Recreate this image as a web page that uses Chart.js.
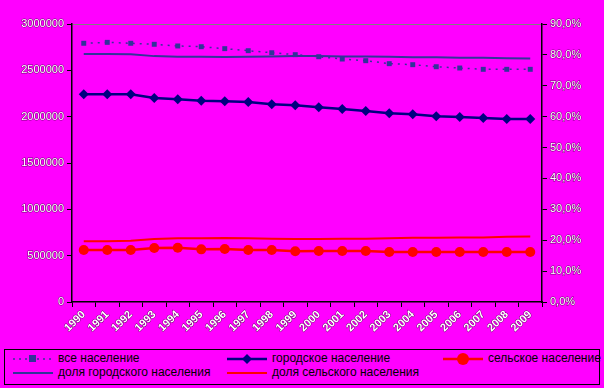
<!DOCTYPE html>
<html>
<head>
<meta charset="utf-8">
<script src="https://cdn.jsdelivr.net/npm/chart.js@4"></script>
<style>
  body { margin: 0; background: #ff00ff; width: 604px; height: 388px; overflow: hidden; position: relative; font-family: Arial, "Liberation Sans", sans-serif; }
  #wrap { position: absolute; left: 0; top: 0; width: 604px; height: 345px; }
  #legenda { position: absolute; left: 4px; top: 349px; width: 596px; height: 36px; border: 1px solid #000; box-sizing: border-box; font-size: 12px; color: #000; }
  .item { position: absolute; height: 13px; line-height: 13px; white-space: nowrap; }
  .mark { position: absolute; left: 0; top: 0; width: 40px; height: 13px; }
  .item span { position: absolute; left: 45px; top: 0; }
</style>
</head>
<body>
<div id="wrap"><canvas id="grafico" width="604" height="345"></canvas></div>
<div id="legenda">
  <div class="item" style="left:8px;top:2px;width:200px">
    <svg class="mark"><line x1="0" y1="7" x2="40" y2="7" stroke="#333399" stroke-width="1.5" stroke-dasharray="2,4"/><rect x="16" y="3" width="7" height="7" fill="#333399"/></svg>
    <span>все население</span>
  </div>
  <div class="item" style="left:222px;top:2px;width:200px">
    <svg class="mark"><line x1="0" y1="7" x2="40" y2="7" stroke="#000080" stroke-width="2.5"/><polygon points="20,2 25,7 20,12 15,7" fill="#000080"/></svg>
    <span>городское население</span>
  </div>
  <div class="item" style="left:438px;top:2px;width:160px">
    <svg class="mark"><line x1="0" y1="7" x2="40" y2="7" stroke="#ff0000" stroke-width="2.5"/><circle cx="20" cy="7" r="6" fill="#ff0000"/></svg>
    <span>сельское население</span>
  </div>
  <div class="item" style="left:8px;top:16px;width:220px">
    <svg class="mark"><line x1="0" y1="7" x2="40" y2="7" stroke="#333399" stroke-width="2"/></svg>
    <span>доля городского населения</span>
  </div>
  <div class="item" style="left:222px;top:16px;width:220px">
    <svg class="mark"><line x1="0" y1="7" x2="40" y2="7" stroke="#ff0000" stroke-width="2"/></svg>
    <span>доля сельского населения</span>
  </div>
</div>
<script>
const anos = ["1990","1991","1992","1993","1994","1995","1996","1997","1998","1999","2000","2001","2002","2003","2004","2005","2006","2007","2008","2009"];
const todaPopulacao = [2792000,2802000,2792000,2781000,2763000,2755000,2734000,2712000,2690000,2669000,2647000,2622000,2604000,2572000,2561000,2539000,2525000,2511000,2511000,2511000];
const urbana = [2241000,2241000,2241000,2201000,2187000,2172000,2166000,2158000,2133000,2122000,2101000,2083000,2061000,2036000,2025000,2004000,1996000,1986000,1975000,1975000];
const rural = [561000,561000,561000,583000,586000,568000,572000,561000,561000,547000,550000,550000,550000,540000,540000,540000,540000,540000,540000,540000];
const partUrbana = [80.3,80.3,80.2,79.6,79.4,79.4,79.3,79.4,79.5,79.6,79.6,79.5,79.5,79.4,79.2,79.2,79.1,79.1,78.9,78.8];
const partRural = [19.7,19.7,19.8,20.4,20.6,20.6,20.7,20.6,20.5,20.4,20.4,20.5,20.5,20.6,20.8,20.8,20.9,20.9,21.1,21.2];
const ticksEsq = [0,500000,1000000,1500000,2000000,2500000,3000000];
const ticksDir = [0,10,20,30,40,50,60,70,80,90];

const fonteTick = { family: 'Arial, "Liberation Sans", sans-serif', size: 11 };
const contorno = { color: '#fff', textStrokeColor: 'rgba(0,0,0,0.55)', textStrokeWidth: 1 };

const ctx = document.getElementById('grafico').getContext('2d');
const grafico = new Chart(ctx, {
  type: 'line',
  data: {
    labels: anos,
    datasets: [
      { label: 'все население', data: todaPopulacao, yAxisID: 'y', borderColor: '#333399', backgroundColor: '#333399',
        borderWidth: 1.5, borderDash: [2, 5], pointStyle: 'rect', pointRadius: 3.5, pointBorderWidth: 0 },
      { label: 'городское население', data: urbana, yAxisID: 'y', borderColor: '#000080', backgroundColor: '#000080',
        borderWidth: 2.5, pointStyle: 'rectRot', pointRadius: 5, pointBorderWidth: 0 },
      { label: 'сельское население', data: rural, yAxisID: 'y', borderColor: '#ff0000', backgroundColor: '#ff0000',
        borderWidth: 2.5, pointStyle: 'circle', pointRadius: 5, pointBorderWidth: 0 },
      { label: 'доля городского населения', data: partUrbana, yAxisID: 'y2', borderColor: '#333399',
        borderWidth: 2, pointRadius: 0 },
      { label: 'доля сельского населения', data: partRural, yAxisID: 'y2', borderColor: '#ff0000',
        borderWidth: 2, pointRadius: 0 }
    ]
  },
  options: {
    responsive: false,
    animation: false,
    layout: { padding: { top: 24, left: 0, right: 0, bottom: 0 } },
    plugins: { legend: { display: false }, tooltip: { enabled: false } },
    scales: {
      x: {
        offset: true,
        grid: { offset: true, drawOnChartArea: false, tickColor: '#000', tickLength: 5 },
        border: { color: '#000', width: 1.5 },
        ticks: { ...contorno, font: { ...fonteTick, size: 11, weight: 'bold' }, maxRotation: 45, minRotation: 45,
          autoSkip: false, padding: 1 },
        afterFit: s => { s.height = 43; }
      },
      y: {
        position: 'left', min: 0, max: 3000000,
        afterBuildTicks: s => { s.ticks = ticksEsq.map(v => ({ value: v })); },
        grid: { color: c => c.tick && c.tick.value === 3000000 ? '#808080' : 'rgba(0,0,0,0)', tickColor: '#000', tickLength: 5 },
        border: { color: '#000', width: 1.5 },
        ticks: { ...contorno, font: fonteTick, padding: 3, callback: v => String(v) },
        afterFit: s => { s.width = 72; }
      },
      y2: {
        position: 'right', min: 0, max: 90,
        afterBuildTicks: s => { s.ticks = ticksDir.map(v => ({ value: v })); },
        grid: { drawOnChartArea: false, tickColor: '#000', tickLength: 5 },
        border: { color: '#000', width: 1.5 },
        ticks: { ...contorno, font: fonteTick, padding: 3,
          callback: v => Number(v).toFixed(1).replace('.', ',') + '%' },
        afterFit: s => { s.width = 62; }
      }
    }
  }
});
</script>
</body>
</html>
